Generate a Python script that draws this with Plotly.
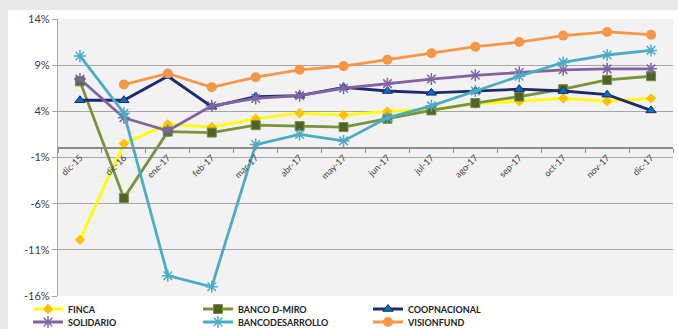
import plotly.graph_objects as go

categories = ["dic-15", "dic-16", "ene-17", "feb-17", "mar-17", "abr-17", "may-17",
              "jun-17", "jul-17", "ago-17", "sep-17", "oct-17", "nov-17", "dic-17"]

finca = [-9.9, 0.5, 2.6, 2.3, 3.2, 3.8, 3.6, 4.0, 4.2, 4.8, 5.1, 5.4, 5.1, 5.4]
banco_dmiro = [7.25, -5.4, 1.8, 1.7, 2.5, 2.4, 2.3, 3.2, 4.1, 4.9, 5.6, 6.4, 7.4, 7.8]
coopnacional = [5.2, 5.2, 7.8, 4.5, 5.6, 5.7, 6.6, 6.2, 6.0, 6.2, 6.4, 6.2, 5.8, 4.1]
solidario = [7.5, 3.3, 1.9, 4.6, 5.4, 5.7, 6.5, 7.0, 7.5, 7.9, 8.2, 8.5, 8.6, 8.6]
bancodesarrollo = [10.0, 3.8, -13.8, -15.0, 0.4, 1.5, 0.8, 3.3, 4.6, 6.2, 7.8, 9.3, 10.1, 10.6]
visionfund = [None, 6.9, 8.1, 6.6, 7.7, 8.5, 8.9, 9.6, 10.3, 11.0, 11.5, 12.2, 12.6, 12.3]

y_ticks = [14, 9, 4, -1, -6, -11, -16]
y_ticklabels = ["14%", "9%", "4%", "-1%", "-6%", "-11%", "-16%"]

series = [
    ("FINCA", finca, "#FFFF00", dict(symbol="diamond", size=8, color="#FFC000"), "legend"),
    ("BANCO D-MIRO", banco_dmiro, "#77933C", dict(symbol="square", size=9, color="#4F6228",
                                                    line=dict(color="#77933C", width=1)), "legend"),
    ("COOPNACIONAL", coopnacional, "#1F2A6E", dict(symbol="triangle-up", size=9, color="#0070C0",
                                                   line=dict(color="#1F2A6E", width=1)), "legend"),
    ("SOLIDARIO", solidario, "#8064A2", dict(symbol="asterisk-open", size=10,
                                             line=dict(color="#8064A2", width=1.5)), "legend2"),
    ("BANCODESARROLLO", bancodesarrollo, "#4BACC6", dict(symbol="asterisk-open", size=10,
                                                        line=dict(color="#4BACC6", width=1.5)), "legend2"),
    ("VISIONFUND", visionfund, "#F79646", dict(symbol="circle", size=10, color="#F79646"), "legend2"),
]

fig = go.Figure()
for name, vals, col, mk, lg in series:
    fig.add_trace(go.Scatter(
        x=categories, y=vals, name=name, mode="lines+markers",
        line=dict(color=col, width=2.8), marker=mk, connectgaps=False, legend=lg,
    ))

W, H = 678, 329
L, R, T, B = 58, 5, 19, 33
pw = W - L - R
ph = H - T - B

def px_x(p):
    return (p - L) / pw

def px_y(p):
    return (H - B - p) / ph

shapes = [
    dict(type="rect", xref="paper", yref="paper", x0=px_x(0), x1=px_x(W), y0=px_y(10), y1=px_y(0),
         fillcolor="#e9e9e9", line=dict(width=0), layer="below"),
    dict(type="rect", xref="paper", yref="paper", x0=px_x(0), x1=px_x(8), y0=px_y(H), y1=px_y(0),
         fillcolor="#e9e9e9", line=dict(width=0), layer="below"),
]

legend_font = dict(family="Lato, DejaVu Sans, sans-serif", size=9, color="#222222", weight="bold")
legend_common = dict(orientation="h", xanchor="left", yanchor="middle",
                     entrywidth=125, entrywidthmode="pixels", font=legend_font,
                     bgcolor="rgba(0,0,0,0)", itemwidth=30)

ymin, ymax = -16, 14
fig.update_layout(
    width=W, height=H,
    margin=dict(l=L, r=R, t=T, b=B, autoexpand=False),
    paper_bgcolor="#ffffff",
    plot_bgcolor="#f2f2f2",
    shapes=shapes,
    showlegend=True,
    legend=dict(x=px_x(28), y=px_y(309), **legend_common),
    legend2=dict(x=px_x(28), y=px_y(322), **legend_common),
    xaxis=dict(
        type="category", categoryorder="array", categoryarray=categories,
        range=[-0.5, len(categories) - 0.5],
        anchor="free", position=(0 - ymin) / (ymax - ymin),
        showline=True, linecolor="#8c8c8c", linewidth=1.5,
        ticks="outside", tickson="boundaries", ticklen=4, tickcolor="#8c8c8c",
        tickangle=-45, showgrid=False,
        tickfont=dict(family="Lato, DejaVu Sans, sans-serif", size=9, color="#404040"),
    ),
    yaxis=dict(
        range=[ymin, ymax], tickvals=y_ticks, ticktext=y_ticklabels,
        showgrid=True, gridcolor="#a6a6a6", gridwidth=1.2,
        showline=True, linecolor="#a6a6a6", linewidth=1.2,
        ticks="outside", ticklen=5, tickcolor="#a6a6a6",
        zeroline=False,
        tickfont=dict(family="Lato, DejaVu Sans, sans-serif", size=11, color="#404040"),
    ),
)

fig.write_html("out.html")
